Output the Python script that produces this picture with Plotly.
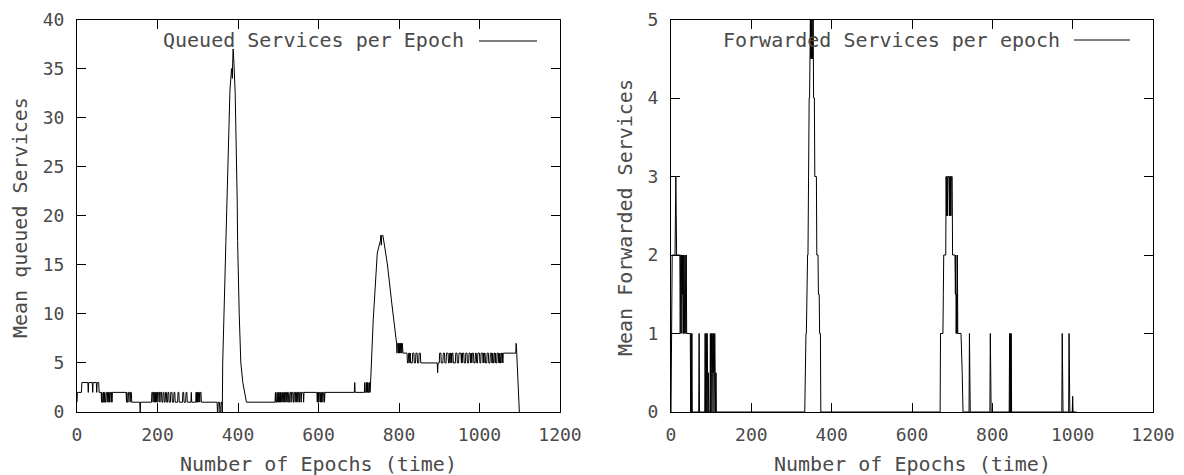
import plotly.graph_objects as go

# ---------------- data ----------------
x_ticks = [0, 200, 400, 600, 800, 1000, 1200]
y_ticks_queued = [0, 5, 10, 15, 20, 25, 30, 35, 40]
y_ticks_forwarded = [0, 1, 2, 3, 4, 5]

queued_label = "Queued Services per Epoch"
forwarded_label = "Forwarded Services per epoch"

# (epoch, mean queued services) vertices of the plotted line
queued_pts = [
    (0, 1), (1, 2), (11, 2), (12, 3), (27, 3), (28, 2), (29, 3), (38, 3), (39, 2), (40, 3),
    (48, 3), (49, 2), (50, 3), (54, 3), (55, 2), (60, 2), (61, 1), (62, 2), (63, 1), (65, 1),
    (66, 2), (67, 1), (68, 2), (69, 1), (71, 1), (72, 2), (74, 2), (75, 1), (76, 2), (78, 2),
    (79, 1), (80, 2), (81, 1), (82, 2), (84, 2), (85, 1), (86, 2), (87, 1), (88, 2),
    (122, 2), (123, 1), (124, 2), (125, 1), (127, 1), (128, 2), (131, 2), (132, 1), (133, 2),
    (135, 2), (136, 1), (156, 1), (157, 0), (158, 1), (185, 1), (186, 2), (188, 2), (189, 1),
    (190, 2), (192, 2), (193, 1), (194, 2), (195, 1), (196, 2), (197, 1), (198, 2), (200, 2),
    (201, 1), (202, 2), (205, 2), (206, 1), (207, 2), (210, 2), (211, 1), (213, 1), (214, 2),
    (216, 2), (217, 1), (219, 1), (220, 2), (222, 2), (223, 1), (225, 1), (226, 2), (228, 2),
    (229, 1), (232, 1), (233, 2), (236, 2), (237, 1), (240, 1), (241, 2), (243, 2), (244, 1),
    (250, 1), (251, 2), (253, 2), (254, 1), (262, 1), (263, 2), (265, 2), (266, 1), (270, 1),
    (271, 2), (273, 2), (274, 1), (283, 1), (284, 2), (285, 1), (295, 1), (296, 2), (297, 1),
    (298, 2), (299, 1), (300, 2), (301, 1), (302, 2), (304, 2), (305, 1), (306, 2), (308, 2),
    (309, 1), (348, 1), (349, 0), (350, 0), (351, 1), (354, 1), (355, 0), (357, 0), (358, 1),
    (360, 1), (361, 0), (362, 5), (370, 17.5), (376, 27.4), (380, 32.8), (384, 35), (386, 34),
    (387, 36), (388, 37), (390, 35.5), (393, 32.5), (398, 21.6), (399, 17.5), (403, 10),
    (407, 5), (412, 3), (416, 2), (421, 1), (492, 1), (493, 2), (494, 1), (496, 1), (497, 2),
    (498, 1), (500, 2), (501, 1), (502, 2), (503, 1), (505, 2), (506, 1), (507, 2), (509, 1),
    (511, 2), (512, 1), (514, 2), (515, 1), (516, 2), (518, 2), (519, 1), (521, 2), (522, 1),
    (523, 2), (525, 2), (526, 1), (528, 1), (529, 2), (531, 2), (532, 1), (533, 2), (536, 2),
    (537, 1), (538, 1), (539, 2), (541, 2), (542, 1), (543, 2), (545, 2), (546, 1), (547, 2),
    (548, 2), (549, 1), (550, 2), (552, 2), (553, 1), (554, 2), (556, 2), (557, 1), (558, 2),
    (562, 2), (563, 1), (564, 2), (596, 2), (597, 1), (598, 2), (599, 1), (600, 2), (601, 1),
    (602, 2), (604, 2), (605, 1), (606, 2), (607, 1), (608, 2), (610, 2), (611, 1), (612, 2),
    (614, 2), (615, 1), (616, 2), (689, 2), (690, 3), (691, 2), (714, 2), (715, 3), (716, 2),
    (718, 2), (719, 3), (720, 2), (721, 3), (722, 2), (723, 3), (724, 2), (726, 2), (727, 3),
    (728, 2), (729, 2.6), (736, 9.4), (746, 16.2), (754, 17.5), (755, 18), (756, 17),
    (757, 18), (760, 18), (762, 17.5), (771, 15.1), (782, 11.1), (794, 7), (795, 6), (796, 7),
    (798, 7), (799, 6), (800, 7), (801, 6), (802, 7), (803, 6), (804, 7), (806, 7), (807, 6),
    (808, 7), (810, 6), (820, 6), (821, 5), (823, 5), (824, 6), (826, 6), (827, 5), (828, 6),
    (829, 5), (833, 5), (834, 6), (837, 6), (838, 5), (841, 5), (842, 6), (845, 6), (846, 5),
    (849, 5), (850, 6), (853, 6), (854, 5), (895, 5), (896, 4), (897, 5), (900, 5), (901, 6),
    (904, 6), (905, 5), (909, 5), (910, 6), (913, 6), (914, 5), (917, 5), (918, 6), (922, 6),
    (923, 5), (925, 5), (926, 6), (928, 6), (929, 5), (930, 6), (931, 5), (932, 6), (934, 6),
    (935, 5), (940, 5), (941, 6), (944, 6), (945, 5), (948, 5), (949, 6), (954, 6), (955, 5),
    (956, 6), (957, 5), (958, 6), (961, 6), (962, 5), (965, 5), (966, 6), (969, 6), (970, 5),
    (973, 5), (974, 6), (977, 6), (978, 5), (980, 6), (981, 5), (982, 6), (985, 6), (986, 5),
    (989, 5), (990, 6), (992, 6), (993, 5), (995, 5), (996, 6), (1000, 6), (1001, 5),
    (1003, 5), (1004, 6), (1008, 6), (1009, 5), (1010, 6), (1011, 5), (1012, 6), (1014, 6),
    (1015, 5), (1018, 5), (1019, 6), (1022, 6), (1023, 5), (1026, 5), (1027, 6), (1030, 6),
    (1031, 5), (1032, 6), (1033, 5), (1035, 5), (1036, 6), (1038, 6), (1039, 5), (1040, 6),
    (1041, 5), (1043, 5), (1044, 6), (1047, 6), (1048, 5), (1049, 6), (1050, 5), (1052, 5),
    (1053, 6), (1055, 6), (1056, 5), (1057, 6), (1058, 5), (1059, 6), (1090, 6), (1091, 7),
    (1092, 6.5), (1099, 0), (1100, 0),
]

# (epoch, mean forwarded services) vertices of the plotted line
forwarded_pts = [
    (0, 0), (1, 0.5), (2, 1), (3, 2), (10, 2), (11, 3), (12, 3), (13, 2.5), (14, 2), (22, 2),
    (23, 1), (24, 2), (26, 2), (27, 1), (28, 2), (29, 1.5), (30, 2), (31, 1), (32, 2),
    (33, 1.5), (34, 1), (35, 2), (36, 1.5), (37, 1), (38, 2), (39, 1), (48, 1), (49, 0),
    (50, 1), (51, 0), (52, 1), (53, 0), (69, 0), (70, 1), (71, 0), (84, 0), (85, 1), (86, 0),
    (87, 1), (88, 1), (89, 0), (90, 1), (91, 0.5), (92, 0), (93, 0.5), (94, 0), (97, 0),
    (98, 1), (99, 0), (101, 1), (102, 0), (104, 1), (105, 0.5), (106, 1), (107, 0),
    (108, 0.5), (109, 1), (110, 0.5), (111, 0), (112, 0.5), (113, 0), (333, 0), (334, 0.5),
    (335, 0.5), (336, 1), (337, 1), (338, 1.5), (339, 1.5), (340, 2), (341, 2), (342, 3),
    (343, 3), (344, 4), (345, 4), (346, 5), (347, 5), (348, 4.5), (349, 5), (350, 4.5),
    (351, 5), (352, 4.5), (353, 5), (354, 5), (355, 4), (357, 4), (358, 3), (362, 3),
    (363, 2), (366, 2), (367, 1.5), (369, 1.5), (370, 1), (372, 1), (373, 0), (670, 0),
    (671, 1), (677, 1), (678, 1.5), (679, 2), (684, 2), (685, 3), (686, 2.5), (687, 3),
    (688, 2.5), (689, 3), (692, 3), (693, 2.5), (694, 3), (695, 2.5), (696, 3), (697, 2.5),
    (698, 3), (700, 3), (701, 2), (707, 2), (708, 1.5), (709, 2), (710, 1), (711, 1.5),
    (712, 1), (713, 2), (714, 1), (722, 1), (725, 0.5), (727, 0), (742, 0), (743, 1),
    (744, 0.5), (745, 0), (794, 0), (795, 1), (796, 0.5), (797, 0), (842, 0), (843, 1),
    (844, 0), (845, 1), (846, 0), (847, 1), (848, 0), (973, 0), (974, 1), (975, 0.5),
    (976, 0), (990, 0), (991, 1), (992, 0.5), (993, 0), (999, 0), (1000, 0.2), (1001, 0),
    (1010, 0),
]

# ---------------- figure ----------------
W, H = 1184, 475
FONT = "DejaVu Sans Mono"
TXT = "#4a4a4a"

fig = go.Figure()
fig.add_trace(go.Scatter(
    x=[p[0] for p in queued_pts], y=[p[1] for p in queued_pts],
    mode="lines", line=dict(color="black", width=1), name=queued_label,
    xaxis="x", yaxis="y", showlegend=False,
))
fig.add_trace(go.Scatter(
    x=[p[0] for p in forwarded_pts], y=[p[1] for p in forwarded_pts],
    mode="lines", line=dict(color="black", width=1), name=forwarded_label,
    xaxis="x2", yaxis="y2", showlegend=False,
))

def px(v):
    return v / W

def py(v):
    return 1 - v / H

common = dict(
    showline=True, linecolor="black", linewidth=1, mirror="ticks",
    ticks="inside", ticklen=9, tickwidth=1, tickcolor="black",
    showgrid=False, zeroline=False, automargin=False,
    tickfont=dict(family=FONT, size=18, color=TXT),
)

y_dom = [py(412), py(19.5)]
fig.update_layout(
    width=W, height=H, autosize=False,
    margin=dict(l=0, r=0, t=0, b=0, pad=0, autoexpand=False),
    paper_bgcolor="white", plot_bgcolor="white",
    showlegend=False,
    xaxis=dict(domain=[px(77), px(560)], range=[0, 1200], tickvals=x_ticks,
               anchor="y", ticklabelstandoff=6, **common),
    yaxis=dict(domain=y_dom, range=[0, 40], tickvals=y_ticks_queued,
               anchor="x", ticklabelstandoff=8, **common),
    xaxis2=dict(domain=[px(671), px(1153)], range=[0, 1200], tickvals=x_ticks,
                anchor="y2", ticklabelstandoff=6, **common),
    yaxis2=dict(domain=y_dom, range=[0, 5], tickvals=y_ticks_forwarded,
                anchor="x2", ticklabelstandoff=8, **common),
)

tfont = dict(family=FONT, size=20, color=TXT)
annotations = [
    dict(text="Number of Epochs (time)", x=px((77 + 560) / 2), y=py(464), xref="paper",
         yref="paper", showarrow=False, xanchor="center", yanchor="middle", font=tfont),
    dict(text="Number of Epochs (time)", x=px((671 + 1153) / 2), y=py(464), xref="paper",
         yref="paper", showarrow=False, xanchor="center", yanchor="middle", font=tfont),
    dict(text="Mean queued Services", x=px(20), y=py(218), xref="paper", yref="paper",
         showarrow=False, xanchor="center", yanchor="middle", textangle=-90, font=tfont),
    dict(text="Mean Forwarded Services", x=px(625), y=py(218), xref="paper", yref="paper",
         showarrow=False, xanchor="center", yanchor="middle", textangle=-90, font=tfont),
    dict(text=queued_label, x=px(466), y=py(40), xref="paper", yref="paper",
         showarrow=False, xanchor="right", yanchor="middle", font=tfont),
    dict(text=forwarded_label, x=px(1062), y=py(40), xref="paper", yref="paper",
         showarrow=False, xanchor="right", yanchor="middle", font=tfont),
]
fig.update_layout(annotations=annotations)

fig.add_shape(type="line", xref="paper", yref="paper", x0=px(479), x1=px(537),
              y0=py(41), y1=py(41), line=dict(color="black", width=1))
fig.add_shape(type="line", xref="paper", yref="paper", x0=px(1074), x1=px(1130),
              y0=py(40), y1=py(40), line=dict(color="black", width=1))

fig.write_html(
    "out.html",
    config={"displayModeBar": False},
    post_script="document.body.style.margin='0';document.body.style.overflow='hidden';",
)
